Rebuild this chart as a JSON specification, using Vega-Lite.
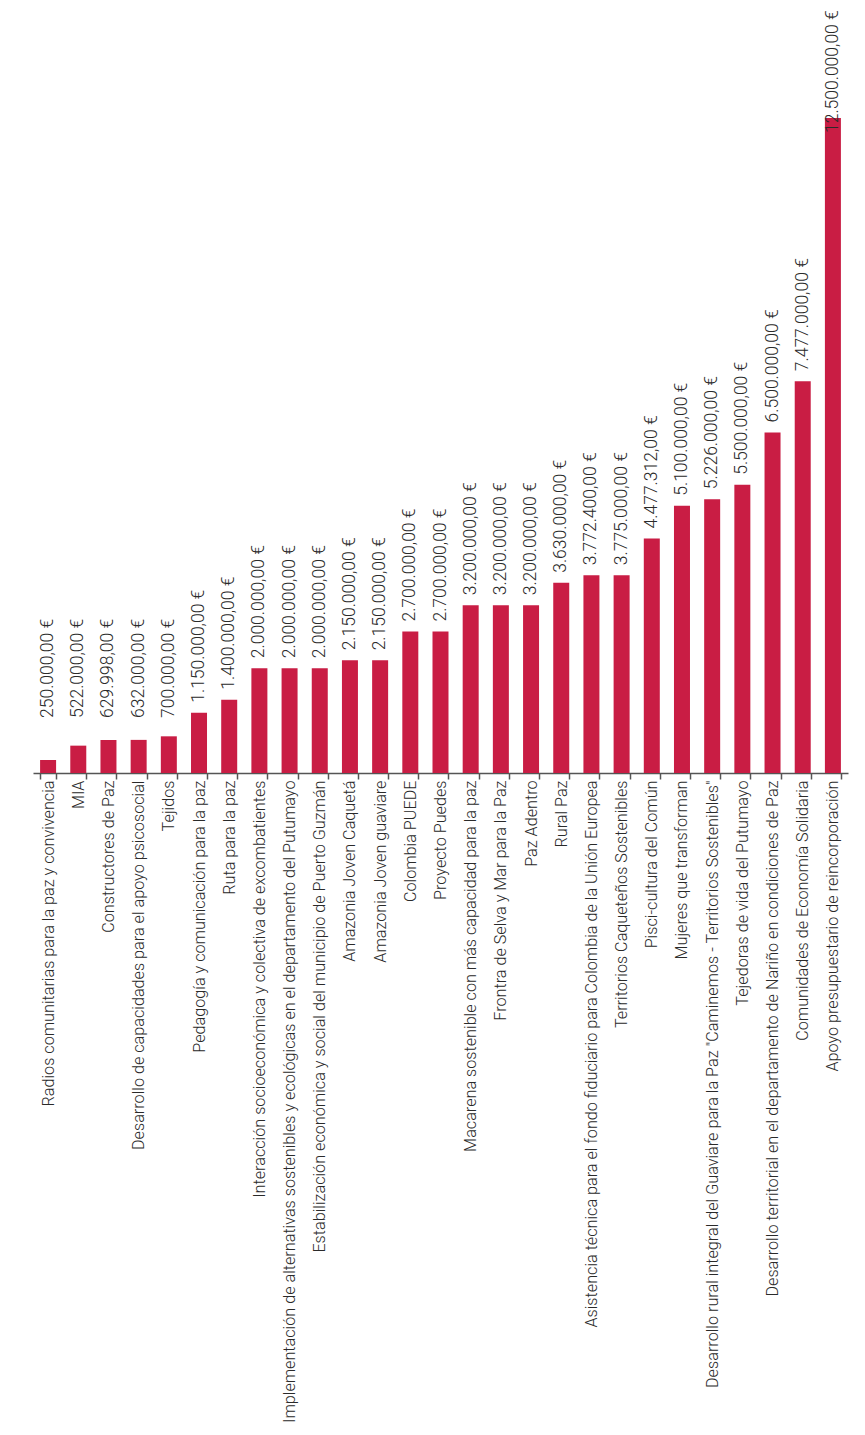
{
  "$schema": "https://vega.github.io/schema/vega-lite/v6.json",
  "width": 815,
  "height": 773,
  "padding": {"left": 33, "top": 0, "right": 17, "bottom": 662},
  "autosize": {"type": "none"},
  "background": "white",
  "config": {
    "view": {"stroke": null},
    "locale": {
      "number": {"decimal": ",", "thousands": ".", "grouping": [3], "currency": ["", " €"]}
    },
    "font": "Roboto",
    "text": {"font": "Roboto", "fontWeight": 300, "fontSize": 17.5, "color": "#2a2a2a", "angle": 270, "align": "left", "baseline": "middle"}
  },
  "data": {
    "values": [
      {"proyecto": "Radios comunitarias para la paz y convivencia", "monto": 250000},
      {"proyecto": "MIA", "monto": 522000},
      {"proyecto": "Constructores de Paz", "monto": 629998},
      {"proyecto": "Desarrollo de capacidades para el apoyo psicosocial", "monto": 632000},
      {"proyecto": "Tejidos", "monto": 700000},
      {"proyecto": "Pedagogía y comunicación para la paz", "monto": 1150000},
      {"proyecto": "Ruta para la paz", "monto": 1400000},
      {"proyecto": "Interacción socioeconómica y colectiva de excombatientes", "monto": 2000000},
      {"proyecto": "Implementación de alternativas sostenibles y ecológicas en el departamento del Putumayo", "monto": 2000000},
      {"proyecto": "Estabilización económica y social del municipio de Puerto Guzmán", "monto": 2000000},
      {"proyecto": "Amazonia Joven Caquetá", "monto": 2150000},
      {"proyecto": "Amazonia Joven guaviare", "monto": 2150000},
      {"proyecto": "Colombia PUEDE", "monto": 2700000},
      {"proyecto": "Proyecto Puedes", "monto": 2700000},
      {"proyecto": "Macarena sostenible con más capacidad para la paz", "monto": 3200000},
      {"proyecto": "Frontra de Selva y Mar para la Paz", "monto": 3200000},
      {"proyecto": "Paz Adentro", "monto": 3200000},
      {"proyecto": "Rural Paz", "monto": 3630000},
      {"proyecto": "Asistencia técnica para el fondo fiduciario para Colombia de la Unión Europea", "monto": 3772400},
      {"proyecto": "Territorios Caqueteños Sostenibles", "monto": 3775000},
      {"proyecto": "Pisci-cultura del Común", "monto": 4477312},
      {"proyecto": "Mujeres que transforman", "monto": 5100000},
      {"proyecto": "Desarrollo rural integral del Guaviare para la Paz \"Caminemos - Territorios Sostenibles\"", "monto": 5226000},
      {"proyecto": "Tejedoras de vida del Putumayo", "monto": 5500000},
      {"proyecto": "Desarrollo territorial en el departamento de Nariño en condiciones de Paz", "monto": 6500000},
      {"proyecto": "Comunidades de Economía Solidaria", "monto": 7477000},
      {"proyecto": "Apoyo presupuestario de reincorporación", "monto": 12500000}
    ]
  },
  "encoding": {
    "x": {
      "field": "proyecto",
      "type": "nominal",
      "sort": null,
      "scale": {"paddingInner": 0.47, "paddingOuter": 0.235},
      "axis": {
        "title": null,
        "labelAngle": 270,
        "labelFont": "Roboto",
        "labelFontWeight": 300,
        "labelFontSize": 16.2,
        "labelColor": "#2a2a2a",
        "labelLimit": 656,
        "labelPadding": 1,
        "domainColor": "#555555",
        "domainWidth": 1.5,
        "tickColor": "#555555",
        "tickWidth": 1.5,
        "tickSize": 6,
        "tickBand": "extent"
      }
    },
    "y": {
      "field": "monto",
      "type": "quantitative",
      "scale": {"domain": [0, 14752000], "nice": false},
      "axis": null
    }
  },
  "layer": [
    {"mark": {"type": "bar", "color": "#c91d44"}},
    {
      "transform": [{"filter": "datum.monto < 1000000"}],
      "mark": {"type": "text"},
      "encoding": {
        "y": {"datum": 1050000, "type": "quantitative"},
        "text": {"field": "monto", "type": "quantitative", "format": "$,.2f"}
      }
    },
    {
      "transform": [{"filter": "datum.monto >= 1000000 && datum.monto < 10000000"}],
      "mark": {"type": "text", "dx": 10},
      "encoding": {
        "text": {"field": "monto", "type": "quantitative", "format": "$,.2f"}
      }
    },
    {
      "transform": [{"filter": "datum.monto >= 10000000"}],
      "mark": {"type": "text", "dx": -15},
      "encoding": {
        "text": {"field": "monto", "type": "quantitative", "format": "$,.2f"}
      }
    }
  ]
}
